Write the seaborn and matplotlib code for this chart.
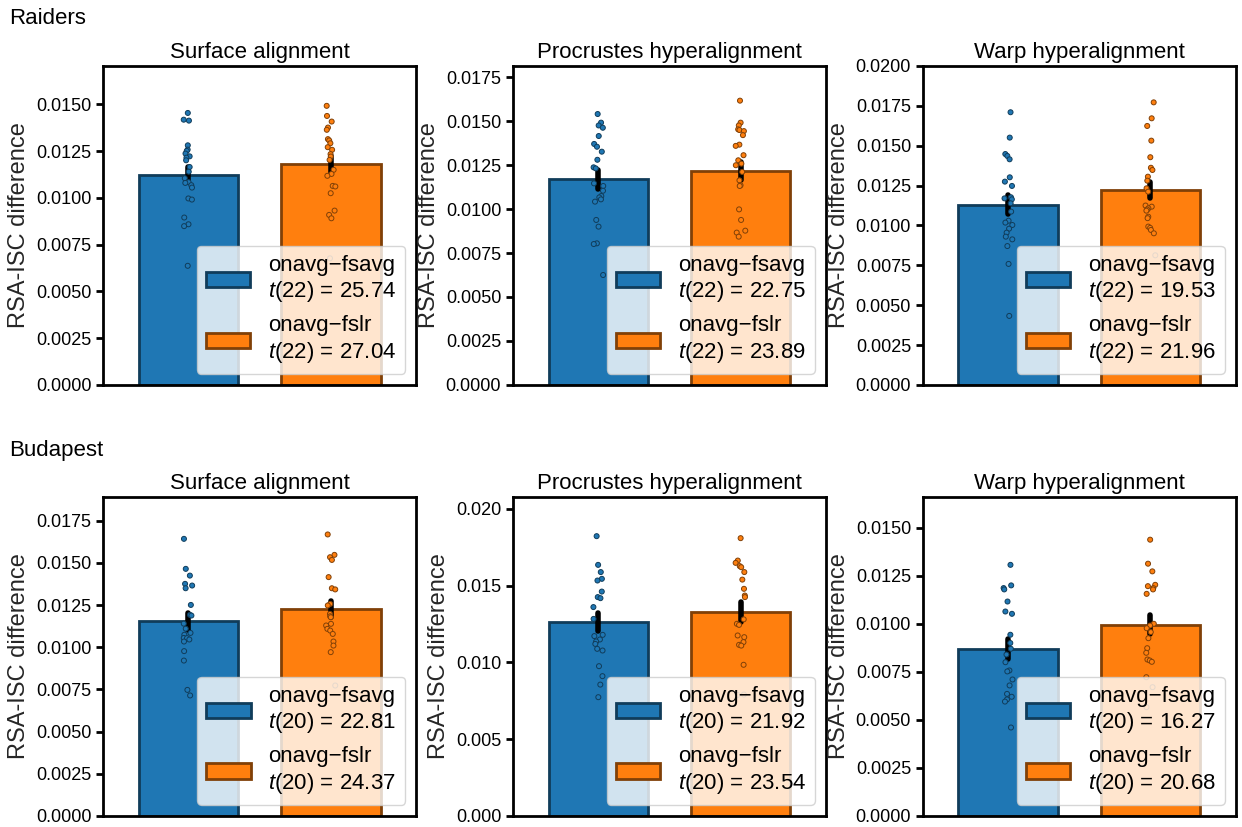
import numpy as np
import pandas as pd
import seaborn as sns
import matplotlib.pyplot as plt
import matplotlib.colors as mcolors

sns.set_style("ticks")
plt.rcParams["font.family"] = ["Liberation Sans", "DejaVu Sans"]
plt.rcParams["mathtext.fontset"] = "custom"
plt.rcParams["mathtext.rm"] = "Liberation Sans"
plt.rcParams["mathtext.it"] = "Liberation Sans:italic"
plt.rcParams["axes.edgecolor"] = "black"
plt.rcParams["ytick.color"] = "black"
plt.rcParams["text.color"] = "black"

datasets = ["Raiders", "Budapest"]
alignments = ["Surface alignment", "Procrustes hyperalignment", "Warp hyperalignment"]
comparisons = ["onavg\u2212fsavg", "onavg\u2212fslr"]
dofs = [22, 20]

# per-subject RSA-ISC differences
raiders_surface_fsavg = [0.01454, 0.01418, 0.01413, 0.01281, 0.01258, 0.01251, 0.01237, 0.01222,
                         0.01215, 0.01201, 0.01165, 0.01140, 0.01105, 0.01084, 0.01080, 0.01068,
                         0.01055, 0.00997, 0.00991, 0.00895, 0.00859, 0.00849, 0.00637]
raiders_surface_fslr = [0.01492, 0.01438, 0.01408, 0.01376, 0.01364, 0.01314, 0.01307, 0.01292,
                        0.01271, 0.01257, 0.01234, 0.01221, 0.01203, 0.01150, 0.01128, 0.01118,
                        0.01064, 0.01061, 0.01025, 0.00932, 0.00909, 0.00891, 0.00677]
raiders_procrustes_fsavg = [0.01540, 0.01491, 0.01475, 0.01462, 0.01415, 0.01370, 0.01354, 0.01326,
                            0.01280, 0.01237, 0.01231, 0.01146, 0.01131, 0.01104, 0.01074, 0.01066,
                            0.01055, 0.01042, 0.00938, 0.00900, 0.00805, 0.00801, 0.00625]
raiders_procrustes_fslr = [0.01616, 0.01491, 0.01475, 0.01453, 0.01449, 0.01443, 0.01420, 0.01366,
                           0.01359, 0.01306, 0.01277, 0.01258, 0.01249, 0.01211, 0.01163, 0.01135,
                           0.01131, 0.00998, 0.00938, 0.00877, 0.00866, 0.00843, 0.00672]
raiders_warp_fsavg = [0.01710, 0.01551, 0.01448, 0.01436, 0.01415, 0.01302, 0.01275, 0.01248,
                      0.01177, 0.01170, 0.01164, 0.01139, 0.01087, 0.01030, 0.01018, 0.01003,
                      0.00980, 0.00955, 0.00930, 0.00913, 0.00871, 0.00759, 0.00433]
raiders_warp_fslr = [0.01772, 0.01672, 0.01624, 0.01532, 0.01428, 0.01362, 0.01348, 0.01306,
                     0.01281, 0.01233, 0.01212, 0.01125, 0.01118, 0.01108, 0.01100, 0.01093,
                     0.01055, 0.01046, 0.00993, 0.00985, 0.00972, 0.00951, 0.00813]

budapest_surface_fsavg = [0.01643, 0.01465, 0.01425, 0.01376, 0.01366, 0.01350, 0.01251, 0.01192,
                          0.01188, 0.01140, 0.01110, 0.01085, 0.01074, 0.01055, 0.01054, 0.01046,
                          0.01034, 0.00977, 0.00921, 0.00747, 0.00714]
budapest_surface_fslr = [0.01669, 0.01548, 0.01534, 0.01518, 0.01416, 0.01350, 0.01343, 0.01257,
                         0.01248, 0.01198, 0.01184, 0.01178, 0.01139, 0.01129, 0.01109, 0.01099,
                         0.01079, 0.01034, 0.01010, 0.00971, 0.00773]
budapest_procrustes_fsavg = [0.01822, 0.01635, 0.01588, 0.01544, 0.01533, 0.01461, 0.01425, 0.01418,
                             0.01360, 0.01283, 0.01179, 0.01171, 0.01149, 0.01136, 0.01120, 0.01088,
                             0.01077, 0.00975, 0.00910, 0.00855, 0.00773]
budapest_procrustes_fslr = [0.01809, 0.01663, 0.01648, 0.01627, 0.01620, 0.01588, 0.01539, 0.01479,
                            0.01435, 0.01425, 0.01280, 0.01251, 0.01244, 0.01175, 0.01164, 0.01132,
                            0.01114, 0.01109, 0.00984, 0.00790, 0.00788]
budapest_warp_fsavg = [0.01307, 0.01200, 0.01186, 0.01179, 0.01116, 0.01064, 0.01052, 0.00943,
                       0.00900, 0.00870, 0.00840, 0.00800, 0.00757, 0.00752, 0.00710, 0.00679,
                       0.00635, 0.00620, 0.00606, 0.00595, 0.00460]
budapest_warp_fslr = [0.01438, 0.01313, 0.01273, 0.01203, 0.01196, 0.01186, 0.01179, 0.01156,
                      0.01000, 0.00991, 0.00977, 0.00957, 0.00925, 0.00873, 0.00849, 0.00814,
                      0.00809, 0.00802, 0.00722, 0.00670, 0.00566]

raiders_t = [[25.74, 27.04], [22.75, 23.89], [19.53, 21.96]]
budapest_t = [[22.81, 24.37], [21.92, 23.54], [16.27, 20.68]]

raiders_ylim = [0.01705, 0.01813, 0.0200]
budapest_ylim = [0.01892, 0.02078, 0.01661]

values = {
    "Raiders": [(raiders_surface_fsavg, raiders_surface_fslr),
                (raiders_procrustes_fsavg, raiders_procrustes_fslr),
                (raiders_warp_fsavg, raiders_warp_fslr)],
    "Budapest": [(budapest_surface_fsavg, budapest_surface_fslr),
                 (budapest_procrustes_fsavg, budapest_procrustes_fslr),
                 (budapest_warp_fsavg, budapest_warp_fslr)],
}
tvals = {"Raiders": raiders_t, "Budapest": budapest_t}
ylims = {"Raiders": raiders_ylim, "Budapest": budapest_ylim}

colors = ["#1f77b4", "#ff7f0e"]


def darker(c, f=0.5):
    r, g, b = mcolors.to_rgb(c)
    return (r * f, g * f, b * f)


np.random.seed(2)
fig = plt.figure(figsize=(12.42, 8.27), dpi=100)
lefts = [0.083, 0.413, 0.743]
bottoms = [0.5345, 0.0135]
row_text_y = [0.978, 0.455]

for r, ds in enumerate(datasets):
    fig.text(0.007, row_text_y[r], ds, fontsize=16, va="center", ha="left")
    for c, title in enumerate(alignments):
        ax = fig.add_axes([lefts[c], bottoms[r], 0.252, 0.3857])
        a, b = values[ds][c]
        df = pd.DataFrame({
            "comparison": [comparisons[0]] * len(a) + [comparisons[1]] * len(b),
            "value": a + b,
        })

        sns.barplot(data=df, x="comparison", y="value", hue="comparison",
                    order=comparisons, hue_order=comparisons, palette=colors,
                    saturation=1, errorbar="se", width=0.7, linewidth=2,
                    err_kws={"color": "black", "linewidth": 4},
                    legend=False, ax=ax)
        for p, col in zip(ax.patches, colors):
            p.set_edgecolor(darker(col))

        sns.stripplot(data=df, x="comparison", y="value", hue="comparison",
                      order=comparisons, hue_order=comparisons, palette=colors,
                      size=3.6, linewidth=0.7, jitter=0.035, legend=False, ax=ax)
        for coll in ax.collections:
            fc = coll.get_facecolor()
            if len(fc):
                coll.set_edgecolor(darker(fc[0]))

        labels = [f"{comparisons[i]}\n$t$({dofs[r]}) = {tvals[ds][c][i]:.2f}" for i in range(2)]
        ax.legend(handles=ax.patches[:2], labels=labels, loc="lower right",
                  fontsize=16, framealpha=0.8)

        ax.set_title(title, fontsize=16)
        ax.set_xlim(-0.6, 1.6)
        ax.set_ylim(0, ylims[ds][c])
        ax.set_xticks([])
        ax.set_xlabel("")
        ax.set_ylabel("RSA-ISC difference", fontsize=17)
        ax.tick_params(axis="y", labelsize=13, width=2, length=5)
        for s in ax.spines.values():
            s.set_linewidth(2)

fig.savefig("out.png", dpi=100)
